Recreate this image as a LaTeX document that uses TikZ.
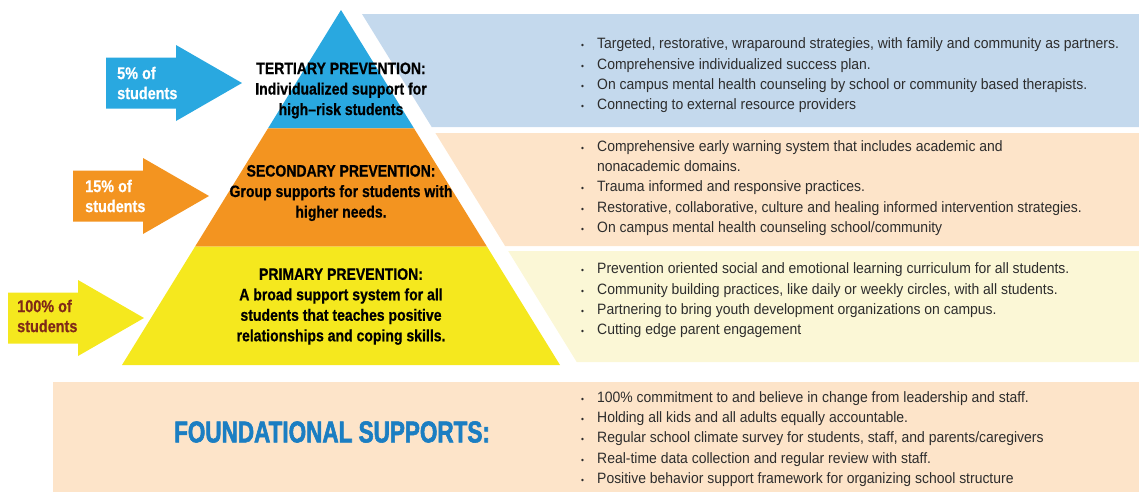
\documentclass[tikz,border=0pt]{standalone}
\usepackage{fontspec}
\setmainfont{Liberation Sans}[FakeStretch=0.93]
\newfontfamily\condfont{Liberation Sans}[FakeStretch=0.85,FakeBold=0.6]
\newfontfamily\titlefont{Liberation Sans Bold}[FakeStretch=0.75,FakeBold=2]
\usetikzlibrary{calc, positioning}
\definecolor{tierblue}{RGB}{41,168,224}
\definecolor{tierorange}{RGB}{243,148,32}
\definecolor{tieryellow}{RGB}{245,232,30}
\definecolor{panelblue}{RGB}{196,217,237}
\definecolor{panelpeach}{RGB}{253,228,201}
\definecolor{panelyellow}{RGB}{251,247,214}
\definecolor{titleblue}{RGB}{27,126,194}
\definecolor{pctbrown}{RGB}{128,42,24}
\definecolor{itemgray}{RGB}{45,45,45}
\newcommand{\itm}{\makebox[16pt][l]{\fontsize{9}{9}\selectfont\textbullet}}

\begin{document}
\begin{tikzpicture}[x=1pt, y=-1pt,
    tierlbl/.style={font=\fontsize{16.5}{20.5}\condfont\bfseries,
                    align=center, inner sep=0pt},
    pctlbl/.style={font=\fontsize{17}{20}\condfont\bfseries,
                   align=left, anchor=west, inner sep=0pt},
    itemlist/.style={font=\fontsize{15}{20.4}\selectfont, text=itemgray,
                     align=left, anchor=west, inner sep=0pt}
  ]
    \useasboundingbox (0,0) rectangle (1139,493);

    % Pyramide
    \coordinate (apex) at (341,10);
    \coordinate (bl)   at (122,365);
    \coordinate (br)   at (560,365);
    \coordinate (l1) at ($(apex)!1/3!(bl)$);
    \coordinate (r1) at ($(apex)!1/3!(br)$);
    \coordinate (l2) at ($(apex)!2/3!(bl)$);
    \coordinate (r2) at ($(apex)!2/3!(br)$);
    \fill[tierblue]   (apex) -- (r1) -- (l1) -- cycle;
    \fill[tierorange] (l1) -- (r1) -- (r2) -- (l2) -- cycle;
    \fill[tieryellow] (l2) -- (r2) -- (br) -- (bl) -- cycle;

    % Faixas a direita
    \fill[panelblue]   (362,14)    -- (1139,14)  -- (1139,127) -- (431.7,127) -- cycle;
    \fill[panelpeach]  (435.4,133) -- (1139,133) -- (1139,246) -- (505.1,246) -- cycle;
    \fill[panelyellow] (508.2,251) -- (1139,251) -- (1139,362) -- (576.7,362) -- cycle;
    \fill[panelpeach]  (53,382) rectangle (1139,492);

    % Setas de percentagem
    \foreach \ax/\ay/\col in {106/83/tierblue, 73/196/tierorange, 8/318/tieryellow}
      \fill[\col] (\ax,\ay-25.5) -- ++(70,0) -- ++(0,-12.5) -- (\ax+136,\ay)
                  -- (\ax+70,\ay+38) -- ++(0,-12.5) -- (\ax,\ay+25.5) -- cycle;
    \node[pctlbl, text=white]    (pct5)   at (117,83)  {5\% of\\students};
    \node[pctlbl, text=white]    (pct15)  at (85,196)  {15\% of\\students};
    \node[pctlbl, text=pctbrown] (pct100) at (17,316)  {100\% of\\students};

    % Rotulos dos niveis
    \node[tierlbl] (tert) at (341,90.5)
      {TERTIARY PREVENTION:\\Individualized support for\\high–risk students};
    \node[tierlbl] (sec)  at (341,193)
      {SECONDARY PREVENTION:\\Group supports for students with\\higher needs.};
    \node[tierlbl] (prim) at (341,306.5)
      {PRIMARY PREVENTION:\\A broad support system for all\\students that teaches positive\\relationships and coping skills.};

    % Listas
    \node[itemlist] (tertlist) at (581,75.5) {%
      \itm Targeted, restorative, wraparound strategies, with family and community as partners.\\
      \itm Comprehensive individualized success plan.\\
      \itm On campus mental health counseling by school or community based therapists.\\
      \itm Connecting to external resource providers};
    \node[itemlist] (seclist) at (581,188) {%
      \itm Comprehensive early warning system that includes academic and\\
      \hspace*{16pt}nonacademic domains.\\
      \itm Trauma informed and responsive practices.\\
      \itm Restorative, collaborative, culture and healing informed intervention strategies.\\
      \itm On campus mental health counseling school/community};
    \node[itemlist] (primlist) at (581,300.5) {%
      \itm Prevention oriented social and emotional learning curriculum for all students.\\
      \itm Community building practices, like daily or weekly circles, with all students.\\
      \itm Partnering to bring youth development organizations on campus.\\
      \itm Cutting edge parent engagement};

    % Base
    \node[font=\fontsize{30}{30}\titlefont, text=titleblue, inner sep=0pt]
      (found) at (332,432) {FOUNDATIONAL SUPPORTS:};
    \node[itemlist] (foundlist) at (581,439) {%
      \itm 100\% commitment to and believe in change from leadership and staff.\\
      \itm Holding all kids and all adults equally accountable.\\
      \itm Regular school climate survey for students, staff, and parents/caregivers\\
      \itm Real-time data collection and regular review with staff.\\
      \itm Positive behavior support framework for organizing school structure};
  \end{tikzpicture}
\end{document}
